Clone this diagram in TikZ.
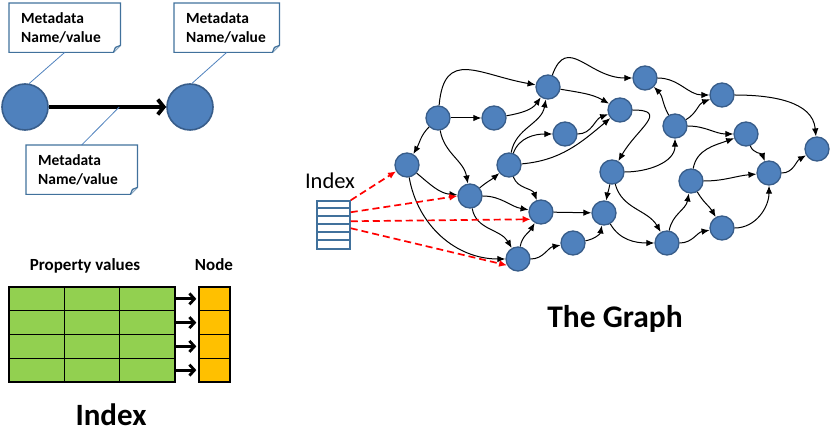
\documentclass[tikz,border=0pt]{standalone}
\usepackage{fontspec}
\setmainfont{Carlito}
\usetikzlibrary{arrows.meta}

\definecolor{vertexfill}{HTML}{4F81BD}
\definecolor{vertexline}{HTML}{385D8A}
\definecolor{noteblue}{HTML}{41719C}
\definecolor{propgreen}{HTML}{92D050}
\definecolor{keyorange}{HTML}{FFC000}

\begin{document}
\begin{tikzpicture}[
    x=1pt,
    y=-1pt,
    vertex/.style={
      circle,
      draw=vertexline,
      fill=vertexfill,
      line width=1.3pt,
      minimum size=24pt,
      inner sep=0,
    },
    bigvertex/.style={
      vertex,
      line width=1.6pt,
      minimum size=46pt,
    },
    edge/.style={
      line width=1pt,
      -{Latex[length=8pt,width=6.5pt]},
    },
    lookup/.style={
      red,
      line width=1.7pt,
      dash pattern=on 7pt off 4pt,
      -{Latex[length=8pt,width=7pt]},
    },
    note/.style={
      anchor=north west,
      inner xsep=12pt,
      minimum height=49pt,
      align=left,
      font=\bfseries\fontsize{15.5}{19}\selectfont,
    },
    notebox/.style={
      draw=noteblue,
      line width=1.2pt,
    },
    noteline/.style={
      draw=vertexfill,
      line width=.8pt,
    },
    bigarrow/.style={
      line width=3.8pt,
      -{Straight Barb[length=6pt,width=15pt]},
    },
    pointer/.style={
      line width=2.8pt,
      -{Straight Barb[length=5pt,width=11pt]},
    },
    cell/.style={
      draw,
      line width=1.4pt,
      minimum height=23.75pt,
      inner sep=0,
    },
    caption/.style={
      anchor=base,
      inner sep=0,
      font=\bfseries\fontsize{17}{17}\selectfont,
    },
  ]
    \newcommand\foldnote[1]{%
      \draw[notebox] (#1.north west) -- (#1.north east)
        -- ([yshift=7pt]#1.south east) -- ([xshift=-7pt]#1.south east)
        -- (#1.south west) -- cycle;
      \draw[notebox,fill=noteblue!25,line join=round]
        ([yshift=7pt]#1.south east) -- ([xshift=-5pt,yshift=5pt]#1.south east)
        -- ([xshift=-7pt]#1.south east);
    }

    \useasboundingbox (0,0) rectangle (830,435);

    % one edge with its metadata
    \node[bigvertex] (v1) at (25,107) {};
    \node[bigvertex] (v2) at (190,107) {};
    \draw[bigarrow] (v1) -- coordinate[pos=.6] (mid) (v2);

    \node[note,text width=87pt] (meta1) at (9,3) {Metadata\\Name/value};
    \node[note,text width=81pt] (meta2) at (174,3) {Metadata\\Name/value};
    \node[note,text width=87pt] (meta3) at (26,145) {Metadata\\Name/value};
    \foldnote{meta1}
    \foldnote{meta2}
    \foldnote{meta3}
    \draw[noteline] (meta1.south) -- (v1.80);
    \draw[noteline] (meta2.south) -- (v2.85);
    \draw[noteline] (meta3.north) -- (mid);

    % index table
    \node[caption] (propcap) at (85,271) {Property values};
    \node[caption] (nodecap) at (214,271) {Node};
    \foreach \row in {1,...,4} {
      \foreach \col in {1,2,3}
        \node[cell,fill=propgreen,minimum width=55.33pt] (pv-\row-\col)
          at ({9+55.33*(\col-.5)},{287+23.75*(\row-.5)}) {};
      \node[cell,fill=keyorange,minimum width=31pt] (nd-\row)
        at (214.5,{287+23.75*(\row-.5)}) {};
      \draw[pointer] (pv-\row-3.east) -- ([xshift=-2pt]nd-\row.west);
    }
    \node[caption,font=\bfseries\fontsize{31}{31}\selectfont] (indexcap) at (111,425) {Index};

    % the graph
    \foreach \name/\x/\y in {a/407/165, b/438/118, c/494/118, d/548/87,
        e/470/196, f/509/165, g/565/134, h/541/212, i/518/259, j/573/243,
        k/604/213, l/612/172, m/620/110, n/645/78, o/675/126, p/722/95,
        q/746/134, r/817/149, s/691/181, t/769/173, u/722/228, v/667/243}
      \node[vertex] (\name) at (\x,\y) {};

    \draw[edge] (b) to[out=225,in=60] (a);
    \draw[edge] (b) -- (c);
    \draw[edge] (b) to[out=85,in=170,looseness=1.5] (d);
    \draw[edge] (c) to[out=10,in=235] (d);
    \draw[edge] (b) to[out=-80,in=100] (e);
    \draw[edge] (a) to[out=-40,in=175] (e);
    \draw[edge] (a) to[out=-80,in=180] (i);
    \draw[edge] (e) to[out=40,in=220] (f);
    \draw[edge] (f) to[out=80,in=-100] (d);
    \draw[edge] (f) to[out=-70,in=110] (h);
    \draw[edge] (e) to[out=0,in=170] (h);
    \draw[edge] (e) to[out=-80,in=120] (i);
    \draw[edge] (i) to[out=80,in=240] (h);
    \draw[edge] (i) to[out=0,in=190] (j);
    \draw[edge] (f) to[out=70,in=180] (g);
    \draw[edge] (f) to[out=5,in=220] (m);
    \draw[edge] (g) to[out=0,in=200] (m);
    \draw[edge] (d) to[out=-10,in=150] (m);
    \draw[edge] (d) to[out=70,in=180,looseness=1.4] (n);
    \draw[edge] (m) to[out=0,in=60,looseness=1.8] (l);
    \draw[edge] (l) to[out=-100,in=80] (k);
    \draw[edge] (l) to[out=0,in=-90] (o);
    \draw[edge] (l) to[out=-75,in=120] (v);
    \draw[edge] (h) -- (k);
    \draw[edge] (j) to[out=10,in=-100] (k);
    \draw[edge] (k) to[out=-60,in=180] (v);
    \draw[edge] (v) to[out=80,in=-100] (s);
    \draw[edge] (v) to[out=0,in=190] (u);
    \draw[edge] (s) to[out=-60,in=120] (u);
    \draw[edge] (s) to[out=80,in=200] (q);
    \draw[edge] (s) to[out=0,in=185] (t);
    \draw[edge] (u) to[out=0,in=-90] (t);
    \draw[edge] (q) to[out=-70,in=110] (t);
    \draw[edge] (t) to[out=0,in=210] (r);
    \draw[edge] (p) to[out=0,in=95] (r);
    \draw[edge] (o) to[out=120,in=-45] (n);
    \draw[edge] (o) to[out=30,in=200] (p);
    \draw[edge] (o) to[out=0,in=180] (q);
    \draw[edge] (n) to[out=0,in=180] (p);

    % index into the graph
    \node[caption,font=\fontsize{22.5}{22.5}\selectfont] (idxcap) at (330,189) {Index};
    \node[notebox,line width=1.5pt,minimum width=33pt,minimum height=48pt,inner sep=0]
      (idx) at (333.5,225) {};
    \foreach \k in {1,...,5}
      \draw[noteblue,line width=1.5pt] ([yshift={-8pt*\k}]idx.north west)
        -- ([yshift={-8pt*\k}]idx.north east);
    \draw[lookup] (idx.north east) -- (a.210);
    \draw[lookup] ([yshift=-12pt]idx.north east) -- (e.180);
    \draw[lookup] ([yshift=-21pt]idx.north east) -- (h.215);
    \draw[lookup] ([yshift=-28pt]idx.north east) -- (i.210);

    \node[caption,font=\bfseries\fontsize{31.5}{31.5}\selectfont] (graphcap) at (615,328) {The Graph};
  \end{tikzpicture}
\end{document}
